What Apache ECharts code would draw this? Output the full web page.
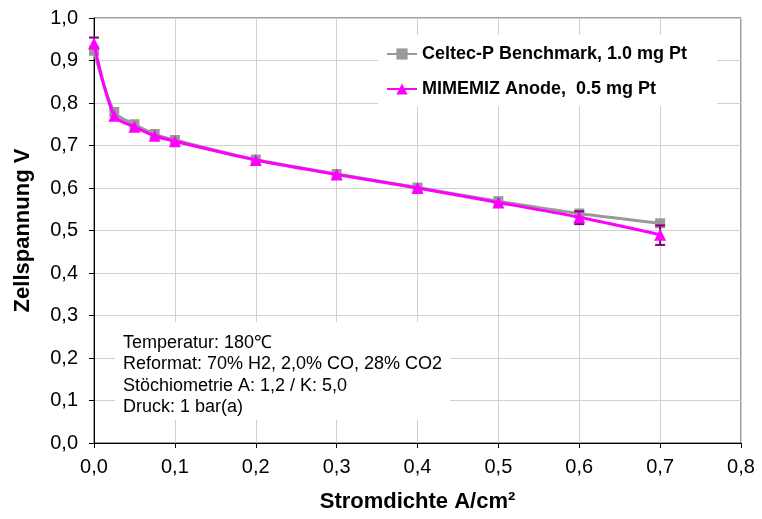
<!DOCTYPE html>
<html>
<head>
<meta charset="utf-8">
<script src="https://cdn.jsdelivr.net/npm/echarts@6/dist/echarts.min.js"></script>
<style>html,body{margin:0;padding:0;background:#fff}#c{width:762px;height:519px}</style>
</head>
<body>
<div id="c"></div>
<script>
var xValues = [0, 0.025, 0.05, 0.075, 0.1, 0.2, 0.3, 0.4, 0.5, 0.6, 0.7];
var celtec = [0.923, 0.779, 0.750, 0.727, 0.713, 0.667, 0.633, 0.601, 0.569, 0.540, 0.517];
var mimemiz = [0.940, 0.770, 0.744, 0.723, 0.710, 0.666, 0.632, 0.600, 0.566, 0.531, 0.490];
var errX = [0, 0.6, 0.7];
var errLow = [0.930, 0.515, 0.466];
var errHigh = [0.954, 0.545, 0.512];
var seriesNames = ['Celtec-P Benchmark, 1.0 mg Pt', 'MIMEMIZ Anode,  0.5 mg Pt'];
var noteLines = ['Temperatur: 180\u2103', 'Reformat: 70% H2, 2,0% CO, 28% CO2', 'St\u00f6chiometrie A: 1,2 / K: 5,0', 'Druck: 1 bar(a)'];

var FONT = '"Liberation Sans", Arial, sans-serif';
function pairs(xs, ys) { return xs.map(function (x, i) { return [x, ys[i]]; }); }
var errData = errX.map(function (x, i) { return [x, errLow[i], errHigh[i]]; });
function fmt(v) { return v.toFixed(1).replace('.', ','); }

var chart = echarts.init(document.getElementById('c'));
chart.setOption({
  animation: false,
  backgroundColor: '#fff',
  grid: { left: 94, right: 21, top: 18, bottom: 76, outerBoundsMode: 'none', containLabel: false, show: true, borderColor: '#404040', borderWidth: 1, backgroundColor: 'transparent' },
  xAxis: {
    type: 'value', min: 0, max: 0.8, interval: 0.1,
    name: 'Stromdichte A/cm\u00b2', nameLocation: 'middle', nameGap: 48,
    nameTextStyle: { fontFamily: FONT, fontSize: 22, fontWeight: 'bold', color: '#000' },
    axisLine: { show: true, lineStyle: { color: '#000', width: 1 } },
    axisTick: { show: true, length: 5, inside: false, lineStyle: { color: '#000' } },
    axisLabel: { fontFamily: FONT, fontSize: 20, color: '#000', margin: 14, formatter: fmt },
    splitLine: { show: true, lineStyle: { color: '#d0d0d0', width: 1 } }
  },
  yAxis: {
    type: 'value', min: 0, max: 1, interval: 0.1,
    name: 'Zellspannung V', nameLocation: 'middle', nameGap: 60,
    nameTextStyle: { fontFamily: FONT, fontSize: 22, fontWeight: 'bold', color: '#000' },
    axisLine: { show: true, lineStyle: { color: '#000', width: 1 } },
    axisTick: { show: true, length: 5, inside: false, lineStyle: { color: '#000' } },
    axisLabel: { fontFamily: FONT, fontSize: 20, color: '#000', margin: 16, formatter: fmt },
    splitLine: { show: true, lineStyle: { color: '#d0d0d0', width: 1 } }
  },
  legend: {
    orient: 'vertical', left: 378, top: 35,
    backgroundColor: '#fff', padding: [10, 30, 8, 8],
    itemWidth: 30, itemHeight: 14, itemGap: 17,
    textStyle: { fontFamily: FONT, fontSize: 18, fontWeight: 'bold', color: '#000', lineHeight: 18 },
    data: seriesNames
  },
  graphic: [{
    type: 'text', left: 115, top: 322, z: 3,
    style: {
      text: noteLines.join('\n'),
      fontFamily: FONT, fontSize: 18, lineHeight: 21.5, fill: '#000',
      backgroundColor: '#fff', padding: [10, 8, 2, 8]
    }
  }],
  series: [
    {
      name: seriesNames[0], type: 'line', data: pairs(xValues, celtec),
      smooth: 0.3, symbol: 'rect', symbolSize: 10,
      lineStyle: { color: '#999999', width: 3 },
      itemStyle: { color: '#999999' }, z: 2
    },
    {
      name: seriesNames[1], type: 'line', data: pairs(xValues, mimemiz),
      smooth: 0.3, symbol: 'triangle', symbolSize: 12,
      lineStyle: { color: '#ff00ff', width: 3 },
      itemStyle: { color: '#ff00ff' }, z: 4
    },
    {
      type: 'custom', data: errData, z: 3,
      renderItem: function (params, api) {
        var x = api.value(0);
        var lo = api.coord([x, api.value(1)]);
        var hi = api.coord([x, api.value(2)]);
        var w = 5;
        var st = { stroke: '#800080', lineWidth: 2 };
        return {
          type: 'group', children: [
            { type: 'line', shape: { x1: lo[0], y1: lo[1], x2: hi[0], y2: hi[1] }, style: st },
            { type: 'line', shape: { x1: lo[0] - w, y1: lo[1], x2: lo[0] + w, y2: lo[1] }, style: st },
            { type: 'line', shape: { x1: hi[0] - w, y1: hi[1], x2: hi[0] + w, y2: hi[1] }, style: st }
          ]
        };
      }
    }
  ]
});
</script>
</body>
</html>
